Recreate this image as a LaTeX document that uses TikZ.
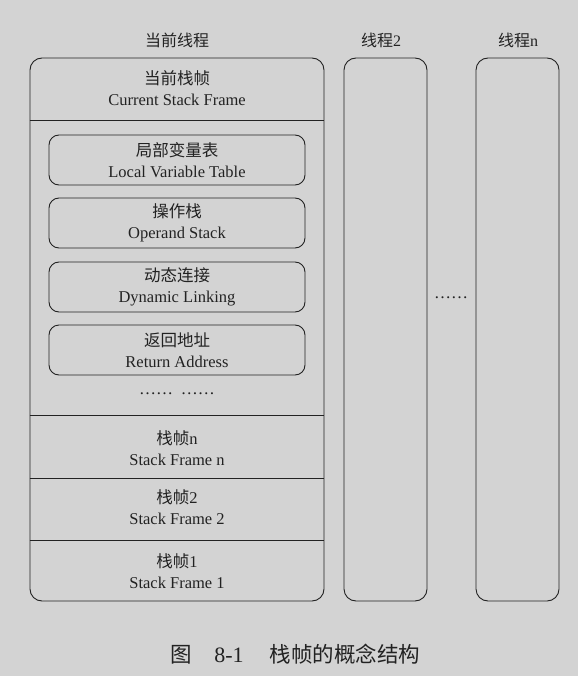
\documentclass[tikz,border=0pt]{standalone}
\usepackage{fontspec}
\setmainfont{Liberation Serif}
\newfontfamily\cjk{Noto Sans CJK SC}
\definecolor{bg}{HTML}{D3D3D3}
\definecolor{ink}{HTML}{222222}
\begin{document}
\begin{tikzpicture}[x=1pt,y=-1pt,
  every node/.style={text=ink, inner sep=0pt},
  frame/.style={draw=ink, line width=0.9pt, rounded corners=12pt},
  slot/.style={draw=ink, line width=0.9pt, rounded corners=10pt, minimum width=256pt, minimum height=50pt},
  lbl/.style={align=center, font=\fontsize{16.5}{20.5}\selectfont},
  head/.style={font=\fontsize{16}{19}\selectfont},
  dotsty/.style={font=\fontsize{17}{19}\selectfont},
  captext/.style={font=\fontsize{21.5}{25}\selectfont, anchor=base},
  div/.style={draw=ink, line width=0.9pt}]
\fill[bg] (0,0) rectangle (578,676);
\useasboundingbox (0,0) rectangle (578,676);
% thread headers
\node[head] (h1) at (177,40) {\cjk 当前线程};
\node[head] (h2) at (381,40) {{\cjk 线程}2};
\node[head] (h3) at (518,40) {{\cjk 线程}n};
% thread boxes
\node[frame, minimum width=294pt, minimum height=543pt] (main) at (177,329.5) {};
\node[frame, minimum width=83pt, minimum height=543pt] (t2) at (385.5,329.5) {};
\node[frame, minimum width=83pt, minimum height=543pt] (tn) at (517.5,329.5) {};
% dividers
\coordinate (d1) at (0,120); \coordinate (d2) at (0,415);
\coordinate (d3) at (0,478); \coordinate (d4) at (0,540);
\draw[div] (main.west |- d1) -- (main.east |- d1);
\draw[div] (main.west |- d2) -- (main.east |- d2);
\draw[div] (main.west |- d3) -- (main.east |- d3);
\draw[div] (main.west |- d4) -- (main.east |- d4);
% current frame
\node[lbl] (cur) at (177,88) {{\cjk 当前栈帧}\\Current Stack Frame};
% slots
\node[slot] (s1) at (177,160) {};
\node[lbl] at (s1) {{\cjk 局部变量表}\\Local Variable Table};
\node[slot] (s2) at (177,223) {};
\node[lbl] at (s2) {{\cjk 操作栈}\\Operand Stack};
\node[slot] (s3) at (177,287) {};
\node[lbl] at (s3) {{\cjk 动态连接}\\Dynamic Linking};
\node[slot] (s4) at (177,350) {};
\node[lbl] at (s4) {{\cjk 返回地址}\\Return Address};
\node[dotsty] (dots) at (177,394) {……\hspace{8pt}……};
% frames
\node[lbl] (fn) at (177,448) {{\cjk 栈帧}n\\Stack Frame n};
\node[lbl] (f2) at (177,507) {{\cjk 栈帧}2\\Stack Frame 2};
\node[lbl] (f1) at (177,571) {{\cjk 栈帧}1\\Stack Frame 1};
% middle dots
\node[dotsty] (mid) at (451,298) {……};
% caption
\node[captext] (c1) at (181,662) {\cjk 图};
\node[captext, font=\fontsize{22}{25}\selectfont] (c2) at (229,662) {8-1};
\node[captext] (c3) at (345,662) {\cjk 栈帧的概念结构};
\end{tikzpicture}
\end{document}
